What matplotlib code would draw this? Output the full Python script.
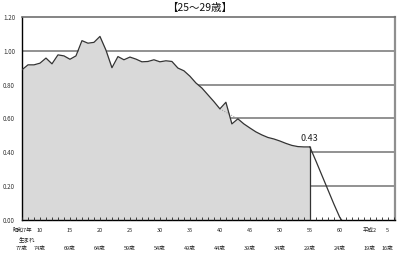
import matplotlib
matplotlib.use("Agg")
import matplotlib.pyplot as plt
import matplotlib.transforms as mtransforms

plt.rcParams['font.family'] = ['Noto Sans CJK JP', 'DejaVu Sans']

# 昭和の年 (birth year, Showa) and ratio
years = list(range(7, 56))
values = [0.888, 0.917, 0.917, 0.927, 0.957, 0.923, 0.976, 0.970, 0.950, 0.970,
          1.060, 1.045, 1.050, 1.085, 1.004, 0.900, 0.966, 0.947, 0.963, 0.951,
          0.935, 0.937, 0.947, 0.935, 0.941, 0.937, 0.898, 0.882, 0.850, 0.810,
          0.780, 0.740, 0.700, 0.657, 0.696, 0.568, 0.598, 0.568, 0.544, 0.521,
          0.503, 0.488, 0.479, 0.467, 0.453, 0.441, 0.434, 0.432, 0.432]

# projection after the last actual value
proj_years = [55, 56, 57, 58, 59, 60, 60.3]
proj_values = [0.432, 0.35, 0.265, 0.18, 0.095, 0.015, 0.0]

# smoothed dotted guide over the dip
guide_years = [40, 43]
guide_values = [0.657, 0.598]

year_ticks = [7, 10, 15, 20, 25, 30, 35, 40, 45, 50, 55, 60, 65, 68]
year_labels = ['昭和7年', '10', '15', '20', '25', '30', '35', '40', '45', '50',
               '55', '60', '平成2', '5']
age_labels = ['77歳', '74歳', '69歳', '64歳', '59歳', '54歳', '49歳', '44歳',
              '39歳', '34歳', '29歳', '24歳', '19歳', '16歳']

fig = plt.figure(figsize=(4.0, 2.61), dpi=100)
ax = fig.add_axes([0.055, 0.157, 0.9325, 0.778])
ax.set_axisbelow(False)

ax.set_xlim(7, 69.2)
ax.set_ylim(0, 1.2)

for g in [0.2, 0.4, 0.6, 0.8, 1.0]:
    ax.axhline(g, color='#7f7f7f', lw=1.2, zorder=1)

ax.fill_between(years, values, 0, color='#d9d9d9', lw=0, zorder=2)
ax.plot(years, values, color='#333333', lw=0.9, zorder=4)
ax.plot([years[-1], years[-1]], [0, values[-1]], color='#333333', lw=0.9, zorder=4)
ax.plot(proj_years, proj_values, color='#333333', lw=0.9, zorder=4)
ax.plot(guide_years, guide_values, color='#999999', lw=0.7, ls=':', zorder=3)

ax.text(55, 0.432 + 0.025, '0.43', fontsize=6.5, ha='center', va='bottom',
        color='#222222', zorder=5)

ax.set_yticks([0, 0.2, 0.4, 0.6, 0.8, 1.0, 1.2])
ax.set_yticklabels(['0.00', '0.20', '0.40', '0.60', '0.80', '1.00', '1.20'])
ax.tick_params(axis='y', length=0, labelsize=4.5, pad=5, labelcolor='#333333')
ax.set_xticks(range(7, 70), minor=True)
ax.set_xticks([])
ax.tick_params(axis='x', which='minor', direction='in', length=2, width=0.6,
               colors='#222222')

ax.spines['left'].set_color('black')
ax.spines['bottom'].set_color('black')
ax.spines['left'].set_linewidth(1.0)
ax.spines['bottom'].set_linewidth(1.0)
ax.spines['top'].set_color('#6f6f6f')
ax.spines['right'].set_color('#8f8f8f')
ax.spines['top'].set_linewidth(1.2)
ax.spines['right'].set_linewidth(1.6)

trans = mtransforms.blended_transform_factory(ax.transData, fig.transFigure)
for x, lab in zip(year_ticks, year_labels):
    ax.text(x, 1 - 230 / 261, lab, fontsize=4, ha='center', va='center',
            transform=trans, color='#222222')
ax.text(7.8, 1 - 239 / 261, '生まれ', fontsize=4, ha='center', va='center',
        transform=trans, color='#222222')
for x, lab in zip(year_ticks, age_labels):
    ax.text(x, 1 - 249 / 261, lab, fontsize=4, ha='center', va='center',
            transform=trans, color='#222222')

fig.text(0.5, 1 - 8 / 261, '【25～29歳】', fontsize=7.5, ha='center', va='center',
         color='#111111')

fig.savefig('out.png', dpi=100)
